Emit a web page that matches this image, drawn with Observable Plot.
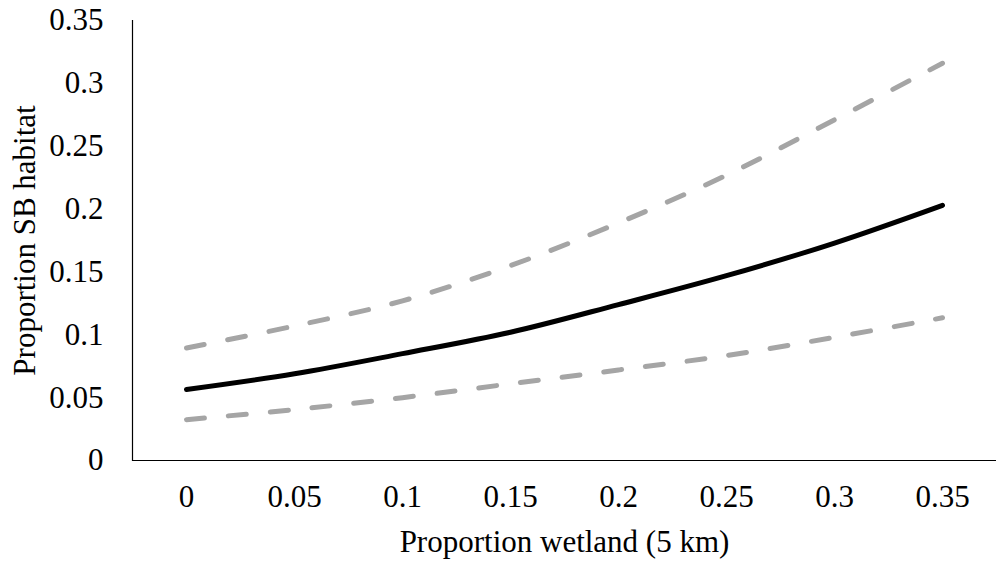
<!DOCTYPE html>
<html>
<head>
<meta charset="utf-8">
<script src="https://cdn.jsdelivr.net/npm/d3@7"></script>
<script src="https://cdn.jsdelivr.net/npm/@observablehq/plot@0.6"></script>
<style>
  html, body { margin: 0; padding: 0; background: #fff; }
  #chart svg { display: block; }
</style>
</head>
<body>
<div id="chart"></div>
<script>
const categories = ["0", "0.05", "0.1", "0.15", "0.2", "0.25", "0.3", "0.35"];
const meanValues  = [0.0565, 0.069, 0.085, 0.102, 0.124, 0.147, 0.173, 0.203];
const upperValues = [0.0895, 0.107, 0.127, 0.155, 0.189, 0.227, 0.271, 0.316];
const lowerValues = [0.0325, 0.0405, 0.050, 0.061, 0.072, 0.0835, 0.098, 0.1135];
const yTicks = [0, 0.05, 0.1, 0.15, 0.2, 0.25, 0.3, 0.35];
const yTickLabels = ["0", "0.05", "0.1", "0.15", "0.2", "0.25", "0.3", "0.35"];
const xTitle = "Proportion wetland (5 km)";
const yTitle = "Proportion SB habitat";

const toRows = (vals) => categories.map((c, i) => ({x: c, y: vals[i]}));
const font = "'Liberation Serif', 'Times New Roman', serif";
const fs = 31;

const chart = Plot.plot({
  width: 997,
  height: 571,
  marginLeft: 132,
  marginRight: 1,
  marginTop: 20,
  marginBottom: 111,
  style: {fontFamily: font, fontSize: fs + "px", color: "#000", background: "#fff"},
  x: {type: "point", domain: categories, padding: 0.5, label: null},
  y: {domain: [0, 0.35], label: null},
  marks: [
    Plot.axisX({tickSize: 0, tickPadding: 24, label: null, fontSize: fs}),
    Plot.axisY({ticks: yTicks, tickFormat: (d) => yTickLabels[yTicks.indexOf(d)], tickSize: 0, tickPadding: 29, label: null, fontSize: fs}),
    Plot.ruleY([0], {stroke: "#000", strokeWidth: 1.2}),
    Plot.frame({anchor: "left", stroke: "#000", strokeWidth: 1.2}),
    Plot.line(toRows(upperValues), {x: "x", y: "y", stroke: "#a5a5a5", strokeWidth: 5, strokeDasharray: "18,24", strokeLinecap: "round", curve: "catmull-rom"}),
    Plot.line(toRows(meanValues), {x: "x", y: "y", stroke: "#000", strokeWidth: 5, strokeLinecap: "round", curve: "catmull-rom"}),
    Plot.line(toRows(lowerValues), {x: "x", y: "y", stroke: "#a5a5a5", strokeWidth: 5, strokeDasharray: "18,24", strokeLinecap: "round", curve: "catmull-rom"}),
    Plot.text([xTitle], {frameAnchor: "bottom", dy: 82, fontSize: fs, fill: "#000", lineAnchor: "middle", textAnchor: "middle"}),
    Plot.text([yTitle], {frameAnchor: "left", dx: -107.6, rotate: -90, fontSize: fs, fill: "#000", lineAnchor: "middle", textAnchor: "middle"})
  ]
});
document.getElementById("chart").appendChild(chart);
</script>
</body>
</html>
